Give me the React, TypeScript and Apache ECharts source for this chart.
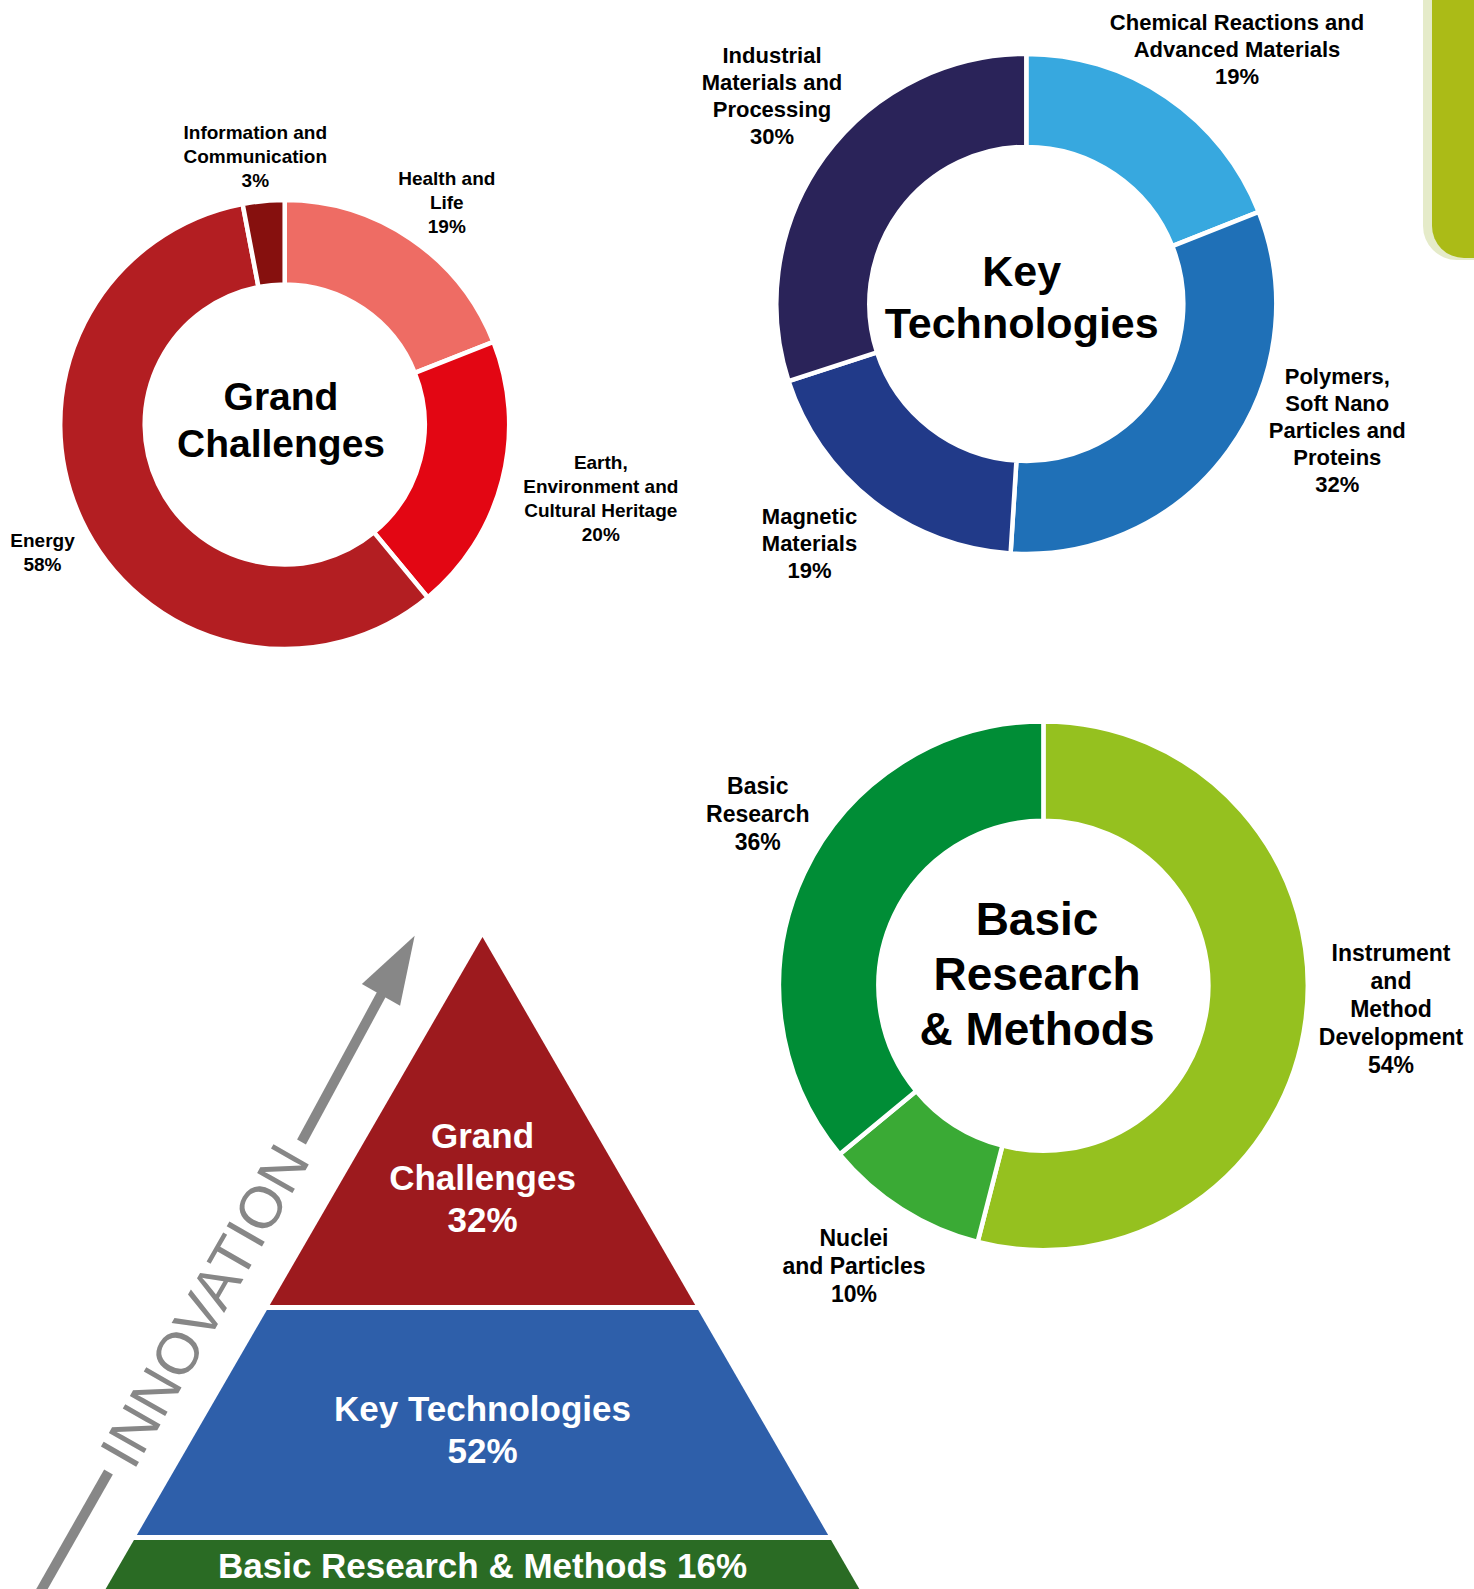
import React, { useEffect, useRef } from "react";
import * as echarts from "echarts";

// ---------- DATA ----------
const gcNames = ["Health and\nLife", "Earth,\nEnvironment and\nCultural Heritage", "Energy", "Information and\nCommunication"];
const gcValues = [19, 20, 58, 3];
const gcColors = ["#EE6C64", "#E30613", "#B31E22", "#86100E"];

const ktNames = ["Chemical Reactions and\nAdvanced Materials", "Polymers,\nSoft Nano\nParticles and\nProteins", "Magnetic\nMaterials", "Industrial\nMaterials and\nProcessing"];
const ktValues = [19, 32, 19, 30];
const ktColors = ["#37A8DF", "#1F70B7", "#213A89", "#2A2359"];

const brNames = ["Instrument\nand\nMethod\nDevelopment", "Nuclei\nand Particles", "Basic\nResearch"];
const brValues = [54, 10, 36];
const brColors = ["#95C11F", "#3AAA35", "#008D36"];

const pyramidNames = ["Grand\nChallenges", "Key Technologies", "Basic Research & Methods"];
const pyramidShares = [32, 52, 16];
const pyramidColors = ["#9D1A1E", "#2E5FAA", "#2A6B24"];

// ---------- LAYOUT ----------
const FONT = '"Liberation Sans", Arial, Helvetica, sans-serif';
const gcLabelPos = [[446.8, 202.6], [600.8, 498], [42.5, 552], [255.3, 156.5]];
const ktLabelPos = [[1237, 49.6], [1337.3, 430.6], [809.5, 543.5], [772, 95.7]];
const brLabelPos = [[1391, 1008.5], [854, 1266.4], [757.8, 813.5]];

const pyrApexX = 482.5;
const pyrApexY = 937;
const pyrSlope = 0.578;
const pyrBands = [[937, 1305], [1310, 1535], [1540, 1600]];
const pyrTextY = [1177, 1429.5, 1565];

function donut(
  names: string[], values: number[], colors: string[], center: number[], radius: number[],
  labelPos: number[][], fontSize: number, lineHeight: number
) {
  return {
    type: "pie",
    center,
    radius,
    startAngle: 90,
    clockwise: true,
    avoidLabelOverlap: false,
    emphasis: { disabled: true },
    itemStyle: { borderColor: "#ffffff", borderWidth: 4.5 },
    label: {
      show: true,
      position: "outside",
      formatter: (p: any) => `${p.name}\n${p.value}%`,
      fontFamily: FONT,
      fontWeight: "bold",
      fontSize,
      lineHeight,
      color: "#000000",
      align: "center",
    },
    labelLine: { show: false },
    labelLayout: (p: any) => ({
      x: labelPos[p.dataIndex][0],
      y: labelPos[p.dataIndex][1],
      align: "center",
      verticalAlign: "middle",
    }),
    data: names.map((n, i) => ({ name: n, value: values[i], itemStyle: { color: colors[i] } })),
  };
}

export default function App() {
  const ref = useRef<HTMLDivElement>(null);

  useEffect(() => {
    if (!ref.current) return;
    const chart = echarts.init(ref.current, null, { renderer: "svg" });

    const ang = Math.atan2(652, 372);
    const ux = Math.cos(ang);
    const uy = -Math.sin(ang);
    const sx = 42, sy = 1589;
    const pt = (t: number, off = 0) => [sx + ux * t - uy * off, sy + uy * t + ux * off];
    const arrowColor = "#878787";

    const option: any = {
      animation: false,
      backgroundColor: "#ffffff",
      series: [
        donut(gcNames, gcValues, gcColors, [284.7, 424.5], [140, 224.5], gcLabelPos, 19, 24),
        donut(ktNames, ktValues, ktColors, [1026.3, 303.9], [157, 250], ktLabelPos, 22, 27),
        donut(brNames, brValues, brColors, [1043.4, 985.8], [165, 264.4], brLabelPos, 23, 28),
        {
          type: "custom",
          coordinateSystem: "none",
          renderItem: (params: any) => {
            const i = params.dataIndex;
            const [y0, y1] = pyrBands[i];
            const hw = (y: number) => pyrSlope * (y - pyrApexY);
            const text = i < 2
              ? `${pyramidNames[i]}\n${pyramidShares[i]}%`
              : `${pyramidNames[i]} ${pyramidShares[i]}%`;
            return {
              type: "group",
              children: [
                {
                  type: "polygon",
                  shape: {
                    points: [
                      [pyrApexX - hw(y0), y0], [pyrApexX + hw(y0), y0],
                      [pyrApexX + hw(y1), y1], [pyrApexX - hw(y1), y1],
                    ],
                  },
                  style: { fill: pyramidColors[i] },
                },
                {
                  type: "text",
                  x: pyrApexX,
                  y: pyrTextY[i],
                  style: {
                    text,
                    fill: "#ffffff",
                    font: `bold 35px ${FONT}`,
                    align: "center",
                    verticalAlign: "middle",
                    lineHeight: 42,
                  },
                },
              ],
            };
          },
          data: pyramidShares.map((v) => [v]),
        },
      ],
      graphic: [
        // green tab top-right
        { type: "rect", shape: { x: 1423, y: -40, width: 80, height: 300, r: [0, 0, 0, 34] }, style: { fill: "#E5EBC9" } },
        { type: "rect", shape: { x: 1432, y: -40, width: 80, height: 298, r: [0, 0, 0, 32] }, style: { fill: "#ABBB17" } },
        // donut centre titles
        { type: "text", x: 281, y: 419.5, style: { text: "Grand\nChallenges", font: `bold 39px ${FONT}`, fill: "#000", align: "center", verticalAlign: "middle", lineHeight: 47 } },
        { type: "text", x: 1021.7, y: 297.3, style: { text: "Key\nTechnologies", font: `bold 43px ${FONT}`, fill: "#000", align: "center", verticalAlign: "middle", lineHeight: 52 } },
        { type: "text", x: 1037, y: 974, style: { text: "Basic\nResearch\n& Methods", font: `bold 46px ${FONT}`, fill: "#000", align: "center", verticalAlign: "middle", lineHeight: 55 } },
        // innovation arrow
        { type: "line", shape: { x1: pt(-20)[0], y1: pt(-20)[1], x2: 108.5, y2: 1472 }, style: { stroke: arrowColor, lineWidth: 10 } },
        { type: "line", shape: { x1: 301.5, y1: 1142, x2: pt(690)[0], y2: pt(690)[1] }, style: { stroke: arrowColor, lineWidth: 10 } },
        {
          type: "polygon",
          shape: { points: [pt(752), pt(684, 22), pt(684, -22)] },
          style: { fill: arrowColor },
        },
        {
          type: "text",
          x: 205,
          y: 1306,
          rotation: ang,
          style: {
            text: "INNOVATION",
            font: `normal 59px ${FONT}`,
            fill: arrowColor,
            align: "center",
            verticalAlign: "middle",
          },
        },
      ],
    };

    chart.setOption(option);
    return () => chart.dispose();
  }, []);

  return (
    <div
      ref={ref}
      style={{ position: "absolute", left: 0, top: 0, width: 1474, height: 1589, background: "#fff" }}
    />
  );
}
